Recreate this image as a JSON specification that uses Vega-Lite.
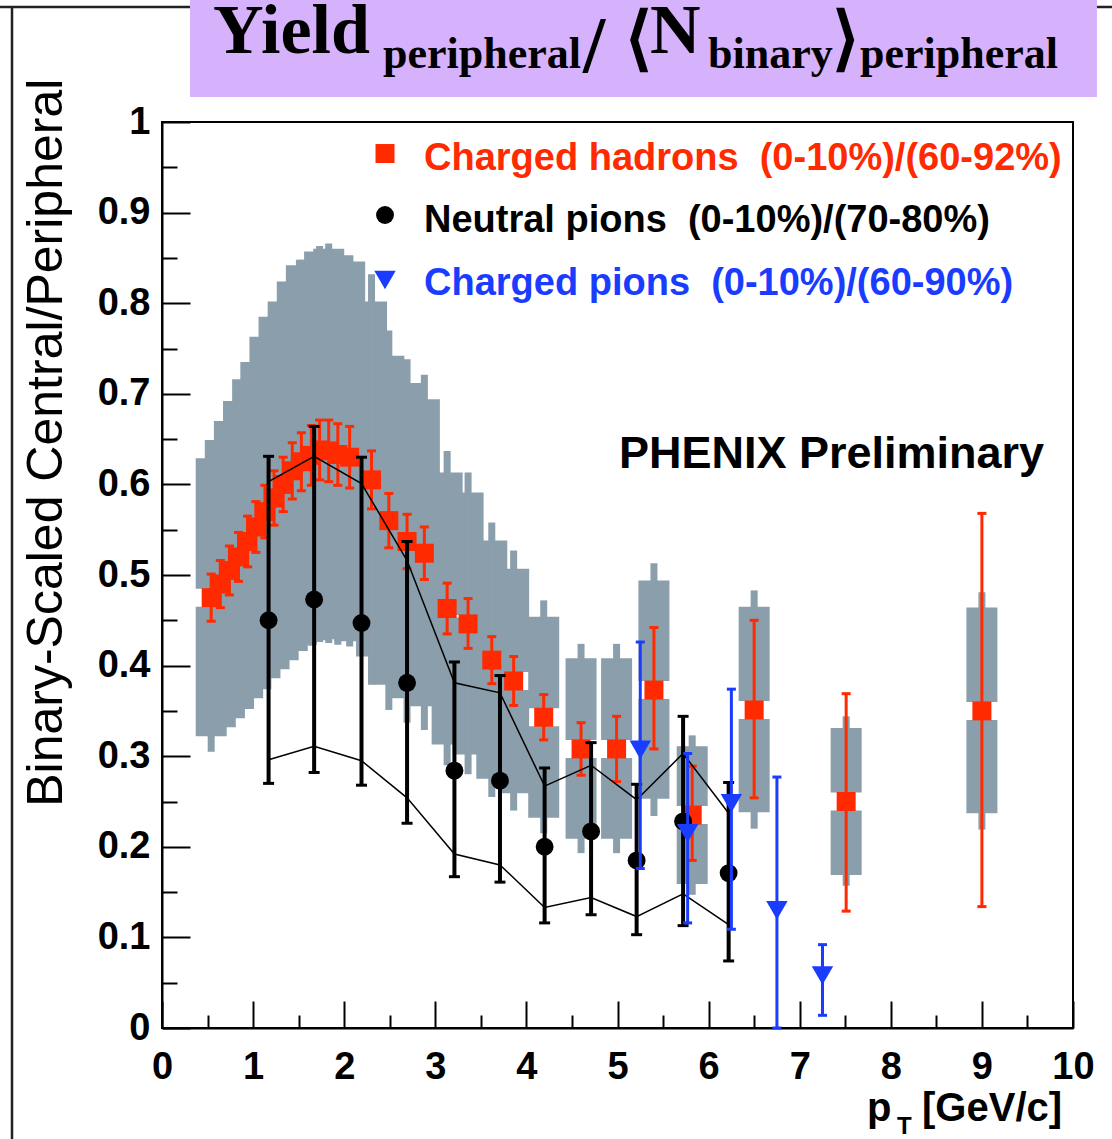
{
  "$schema": "https://vega.github.io/schema/vega-lite/v6.json",
  "width": 911,
  "height": 906,
  "autosize": {"type": "none"},
  "padding": {"left": 162, "top": 122, "right": 39, "bottom": 111},
  "background": "white",
  "view": {"stroke": "#000", "strokeWidth": 2},
  "datasets": {
    "had": [
      {"pT":0.54,"v":0.475,"elo":0.449,"ehi":0.501,"wlo":0.322,"whi":0.629,"nlo":0.305,"nhi":0.635},
      {"pT":0.64,"v":0.490,"elo":0.464,"ehi":0.516,"wlo":0.332,"whi":0.649,"nlo":0.326,"nhi":0.655},
      {"pT":0.74,"v":0.505,"elo":0.478,"ehi":0.532,"wlo":0.342,"whi":0.670,"nlo":0.336,"nhi":0.676},
      {"pT":0.84,"v":0.520,"elo":0.493,"ehi":0.547,"wlo":0.352,"whi":0.692,"nlo":0.346,"nhi":0.698},
      {"pT":0.94,"v":0.537,"elo":0.509,"ehi":0.565,"wlo":0.364,"whi":0.716,"nlo":0.358,"nhi":0.722},
      {"pT":1.03,"v":0.553,"elo":0.525,"ehi":0.581,"wlo":0.374,"whi":0.735,"nlo":0.368,"nhi":0.741},
      {"pT":1.13,"v":0.570,"elo":0.541,"ehi":0.599,"wlo":0.386,"whi":0.763,"nlo":0.380,"nhi":0.769},
      {"pT":1.23,"v":0.585,"elo":0.555,"ehi":0.615,"wlo":0.396,"whi":0.785,"nlo":0.390,"nhi":0.791},
      {"pT":1.33,"v":0.600,"elo":0.570,"ehi":0.630,"wlo":0.406,"whi":0.802,"nlo":0.400,"nhi":0.808},
      {"pT":1.43,"v":0.615,"elo":0.584,"ehi":0.646,"wlo":0.416,"whi":0.824,"nlo":0.410,"nhi":0.830},
      {"pT":1.53,"v":0.625,"elo":0.593,"ehi":0.657,"wlo":0.423,"whi":0.842,"nlo":0.417,"nhi":0.848},
      {"pT":1.64,"v":0.632,"elo":0.599,"ehi":0.665,"wlo":0.428,"whi":0.848,"nlo":0.422,"nhi":0.854},
      {"pT":1.73,"v":0.638,"elo":0.605,"ehi":0.671,"wlo":0.432,"whi":0.857,"nlo":0.426,"nhi":0.863},
      {"pT":1.83,"v":0.637,"elo":0.603,"ehi":0.671,"wlo":0.431,"whi":0.860,"nlo":0.425,"nhi":0.866},
      {"pT":1.93,"v":0.633,"elo":0.599,"ehi":0.667,"wlo":0.429,"whi":0.853,"nlo":0.423,"nhi":0.859},
      {"pT":2.06,"v":0.630,"elo":0.596,"ehi":0.664,"wlo":0.427,"whi":0.846,"nlo":0.421,"nhi":0.852},
      {"pT":2.30,"v":0.605,"elo":0.573,"ehi":0.637,"wlo":0.410,"whi":0.802,"nlo":0.379,"nhi":0.832},
      {"pT":2.49,"v":0.560,"elo":0.530,"ehi":0.590,"wlo":0.379,"whi":0.742,"nlo":0.351,"nhi":0.770},
      {"pT":2.69,"v":0.537,"elo":0.507,"ehi":0.567,"wlo":0.364,"whi":0.712,"nlo":0.337,"nhi":0.738},
      {"pT":2.88,"v":0.524,"elo":0.495,"ehi":0.553,"wlo":0.355,"whi":0.694,"nlo":0.329,"nhi":0.721},
      {"pT":3.13,"v":0.463,"elo":0.435,"ehi":0.491,"wlo":0.313,"whi":0.613,"nlo":0.290,"nhi":0.637},
      {"pT":3.36,"v":0.446,"elo":0.419,"ehi":0.474,"wlo":0.302,"whi":0.591,"nlo":0.280,"nhi":0.613},
      {"pT":3.62,"v":0.406,"elo":0.380,"ehi":0.432,"wlo":0.275,"whi":0.538,"nlo":0.255,"nhi":0.558},
      {"pT":3.86,"v":0.383,"elo":0.356,"ehi":0.410,"wlo":0.259,"whi":0.507,"nlo":0.240,"nhi":0.527},
      {"pT":4.19,"v":0.343,"elo":0.318,"ehi":0.368,"wlo":0.232,"whi":0.454,"nlo":0.215,"nhi":0.472},
      {"pT":4.60,"v":0.308,"elo":0.279,"ehi":0.337,"wlo":0.209,"whi":0.408,"nlo":0.193,"nhi":0.424},
      {"pT":4.99,"v":0.308,"elo":0.272,"ehi":0.344,"wlo":0.209,"whi":0.408,"nlo":0.193,"nhi":0.424},
      {"pT":5.40,"v":0.373,"elo":0.308,"ehi":0.442,"wlo":0.253,"whi":0.494,"nlo":0.234,"nhi":0.513},
      {"pT":5.82,"v":0.235,"elo":0.185,"ehi":0.289,"wlo":0.159,"whi":0.311,"nlo":0.147,"nhi":0.323},
      {"pT":6.50,"v":0.351,"elo":0.254,"ehi":0.450,"wlo":0.238,"whi":0.465,"nlo":0.220,"nhi":0.483},
      {"pT":7.51,"v":0.250,"elo":0.129,"ehi":0.369,"wlo":0.169,"whi":0.331,"nlo":0.157,"nhi":0.344},
      {"pT":9.00,"v":0.350,"elo":0.134,"ehi":0.568,"wlo":0.237,"whi":0.464,"nlo":0.219,"nhi":0.481}
    ],
    "pi0": [
      {"pT":1.17,"v":0.450,"elo":0.270,"ehi":0.631,"su":0.603,"sl":0.296},
      {"pT":1.67,"v":0.473,"elo":0.282,"ehi":0.664,"su":0.631,"sl":0.311},
      {"pT":2.19,"v":0.447,"elo":0.268,"ehi":0.630,"su":0.601,"sl":0.295},
      {"pT":2.69,"v":0.381,"elo":0.226,"ehi":0.537,"su":0.516,"sl":0.254},
      {"pT":3.21,"v":0.284,"elo":0.167,"ehi":0.404,"su":0.381,"sl":0.192},
      {"pT":3.71,"v":0.273,"elo":0.161,"ehi":0.389,"su":0.370,"sl":0.180},
      {"pT":4.20,"v":0.200,"elo":0.116,"ehi":0.287,"su":0.267,"sl":0.133},
      {"pT":4.71,"v":0.217,"elo":0.125,"ehi":0.315,"su":0.290,"sl":0.144},
      {"pT":5.21,"v":0.185,"elo":0.103,"ehi":0.269,"su":0.252,"sl":0.123},
      {"pT":5.72,"v":0.228,"elo":0.113,"ehi":0.344,"su":0.303,"sl":0.148},
      {"pT":6.22,"v":0.171,"elo":0.074,"ehi":0.271,"su":0.237,"sl":0.114}
    ],
    "pich": [
      {"pT":5.25,"v":0.307,"elo":0.176,"ehi":0.426},
      {"pT":5.77,"v":0.215,"elo":0.116,"ehi":0.303},
      {"pT":6.25,"v":0.248,"elo":0.109,"ehi":0.374},
      {"pT":6.75,"v":0.130,"elo":0.000,"ehi":0.277},
      {"pT":7.25,"v":0.058,"elo":0.014,"ehi":0.092}
    ]
  },
  "layer": [
    {
      "layer": [
        {"data":{"values":[{}]},"mark":{"type":"rule","color":"#222","strokeWidth":2.5},"encoding":{"x":{"datum":-1.778},"x2":{"datum":10.43},"y":{"datum":1.1269}}},
        {"data":{"values":[{}]},"mark":{"type":"rect","color":"#d6b1fc"},"encoding":{"x":{"datum":0.307},"x2":{"datum":10.263},"y":{"datum":1.1347},"y2":{"datum":1.0276}}},
        {"data":{"values":[{}]},"mark":{"type":"text","text":"Yield","font":"Liberation Serif","fontWeight":"bold","fontSize":70,"align":"left","baseline":"alphabetic","color":"#000"},"encoding":{"x":{"datum":0.56},"y":{"datum":1.0762}}},
        {"data":{"values":[{}]},"mark":{"type":"text","text":"peripheral","font":"Liberation Serif","fontWeight":"bold","fontSize":44,"align":"left","baseline":"alphabetic","color":"#000"},"encoding":{"x":{"datum":2.426},"y":{"datum":1.0596}}},
        {"data":{"values":[{}]},"mark":{"type":"text","text":"/","font":"Liberation Serif","fontWeight":"bold","fontSize":80,"align":"left","baseline":"alphabetic","color":"#000"},"encoding":{"x":{"datum":4.621},"y":{"datum":1.0552}}},
        {"data":{"values":[{}]},"mark":{"type":"text","text":"⟨","font":"Liberation Serif","fontWeight":"bold","fontSize":70,"align":"left","baseline":"alphabetic","color":"#000"},"encoding":{"x":{"datum":5.082},"y":{"datum":1.0662}}},
        {"data":{"values":[{}]},"mark":{"type":"text","text":"N","font":"Liberation Serif","fontWeight":"bold","fontSize":70,"align":"left","baseline":"alphabetic","color":"#000"},"encoding":{"x":{"datum":5.357},"y":{"datum":1.0762}}},
        {"data":{"values":[{}]},"mark":{"type":"text","text":"binary","font":"Liberation Serif","fontWeight":"bold","fontSize":44,"align":"left","baseline":"alphabetic","color":"#000"},"encoding":{"x":{"datum":5.993},"y":{"datum":1.0596}}},
        {"data":{"values":[{}]},"mark":{"type":"text","text":"⟩","font":"Liberation Serif","fontWeight":"bold","fontSize":70,"align":"left","baseline":"alphabetic","color":"#000"},"encoding":{"x":{"datum":7.355},"y":{"datum":1.0662}}},
        {"data":{"values":[{}]},"mark":{"type":"text","text":"peripheral","font":"Liberation Serif","fontWeight":"bold","fontSize":44,"align":"left","baseline":"alphabetic","color":"#000"},"encoding":{"x":{"datum":7.662},"y":{"datum":1.0596}}},

        {"data":{"name":"had"},"mark":{"type":"bar","width":31,"color":"#8b9eab","yOffset":-9},
         "encoding":{
           "x":{"field":"pT","type":"quantitative","scale":{"domain":[0,10],"nice":false,"zero":false,"padding":0},
                "axis":{"values":[0,1,2,3,4,5,6,7,8,9,10],"format":"d","title":null,"grid":false,"tickSize":-27,"tickWidth":2,"tickColor":"#000","domainColor":"#000","domainWidth":2,"labelFont":"Liberation Sans","labelFontWeight":"bold","labelFontSize":38,"labelColor":"#000","labelPadding":47,"labelOverlap":false,"labelFlush":false,"labelBound":false}},
           "y":{"field":"v","type":"quantitative","scale":{"domain":[0,1],"nice":false,"zero":false,"padding":0},
                "axis":{"values":[0,0.1,0.2,0.3,0.4,0.5,0.6,0.7,0.8,0.9,1],"format":".1~f","title":null,"grid":false,"tickSize":-28,"tickWidth":2,"tickColor":"#000","domainColor":"#000","domainWidth":2,"labelFont":"Liberation Sans","labelFontWeight":"bold","labelFontSize":38,"labelColor":"#000","labelPadding":40,"labelOverlap":false,"labelFlush":false,"labelBound":false}},
           "y2":{"field":"whi"}}},
        {"data":{"name":"had"},"mark":{"type":"bar","width":31,"color":"#8b9eab","y2Offset":9},
         "encoding":{"x":{"field":"pT","type":"quantitative"},"y":{"field":"wlo","type":"quantitative"},"y2":{"field":"v"}}},
        {"data":{"name":"had"},"mark":{"type":"bar","width":7,"color":"#8b9eab","yOffset":-9},
         "encoding":{"x":{"field":"pT","type":"quantitative"},"y":{"field":"v","type":"quantitative"},"y2":{"field":"nhi"}}},
        {"data":{"name":"had"},"mark":{"type":"bar","width":7,"color":"#8b9eab","y2Offset":9},
         "encoding":{"x":{"field":"pT","type":"quantitative"},"y":{"field":"nlo","type":"quantitative"},"y2":{"field":"v"}}},

        {"data":{"name":"had"},"mark":{"type":"rule","color":"#ff2a00","strokeWidth":3},
         "encoding":{"x":{"field":"pT","type":"quantitative"},"y":{"field":"elo","type":"quantitative"},"y2":{"field":"ehi"}}},
        {"data":{"name":"had"},"mark":{"type":"tick","orient":"horizontal","color":"#ff2a00","size":9,"thickness":3,"opacity":1},
         "encoding":{"x":{"field":"pT","type":"quantitative"},"y":{"field":"ehi","type":"quantitative"}}},
        {"data":{"name":"had"},"mark":{"type":"tick","orient":"horizontal","color":"#ff2a00","size":9,"thickness":3,"opacity":1},
         "encoding":{"x":{"field":"pT","type":"quantitative"},"y":{"field":"elo","type":"quantitative"}}},
        {"data":{"name":"had"},"mark":{"type":"point","shape":"square","filled":true,"size":361,"color":"#ff2a00","opacity":1},
         "encoding":{"x":{"field":"pT","type":"quantitative"},"y":{"field":"v","type":"quantitative"}}},

        {"data":{"name":"pi0"},"mark":{"type":"line","color":"#000","strokeWidth":1.5},
         "encoding":{"x":{"field":"pT","type":"quantitative"},"y":{"field":"su","type":"quantitative"}}},
        {"data":{"name":"pi0"},"mark":{"type":"line","color":"#000","strokeWidth":1.5},
         "encoding":{"x":{"field":"pT","type":"quantitative"},"y":{"field":"sl","type":"quantitative"}}},
        {"data":{"name":"pi0"},"mark":{"type":"rule","color":"#000","strokeWidth":4},
         "encoding":{"x":{"field":"pT","type":"quantitative"},"y":{"field":"elo","type":"quantitative"},"y2":{"field":"ehi"}}},
        {"data":{"name":"pi0"},"mark":{"type":"tick","orient":"horizontal","color":"#000","size":11,"thickness":3,"opacity":1},
         "encoding":{"x":{"field":"pT","type":"quantitative"},"y":{"field":"ehi","type":"quantitative"}}},
        {"data":{"name":"pi0"},"mark":{"type":"tick","orient":"horizontal","color":"#000","size":11,"thickness":3,"opacity":1},
         "encoding":{"x":{"field":"pT","type":"quantitative"},"y":{"field":"elo","type":"quantitative"}}},
        {"data":{"name":"pi0"},"mark":{"type":"point","shape":"circle","filled":true,"size":320,"color":"#000","opacity":1},
         "encoding":{"x":{"field":"pT","type":"quantitative"},"y":{"field":"v","type":"quantitative"}}},

        {"data":{"name":"pich"},"mark":{"type":"rule","color":"#1a3cff","strokeWidth":3},
         "encoding":{"x":{"field":"pT","type":"quantitative"},"y":{"field":"elo","type":"quantitative"},"y2":{"field":"ehi"}}},
        {"data":{"name":"pich"},"mark":{"type":"tick","orient":"horizontal","color":"#1a3cff","size":9,"thickness":3,"opacity":1},
         "encoding":{"x":{"field":"pT","type":"quantitative"},"y":{"field":"ehi","type":"quantitative"}}},
        {"data":{"name":"pich"},"mark":{"type":"tick","orient":"horizontal","color":"#1a3cff","size":9,"thickness":3,"opacity":1},
         "encoding":{"x":{"field":"pT","type":"quantitative"},"y":{"field":"elo","type":"quantitative"}}},
        {"data":{"name":"pich"},"mark":{"type":"point","shape":"triangle-down","filled":true,"size":460,"color":"#1a3cff","opacity":1},
         "encoding":{"x":{"field":"pT","type":"quantitative"},"y":{"field":"v","type":"quantitative"}}},

        {"data":{"values":[{}]},"mark":{"type":"point","shape":"square","filled":true,"size":361,"color":"#ff2a00","opacity":1},"encoding":{"x":{"datum":2.448},"y":{"datum":0.9652}}},
        {"data":{"values":[{}]},"mark":{"type":"point","shape":"circle","filled":true,"size":320,"color":"#000","opacity":1},"encoding":{"x":{"datum":2.448},"y":{"datum":0.8974}}},
        {"data":{"values":[{}]},"mark":{"type":"point","shape":"triangle-down","filled":true,"size":460,"color":"#1a3cff","opacity":1},"encoding":{"x":{"datum":2.448},"y":{"datum":0.8256}}},
        {"data":{"values":[{}]},"mark":{"type":"text","text":"Charged hadrons\u00a0 (0-10%)/(60-92%)","font":"Liberation Sans","fontWeight":"bold","fontSize":38,"align":"left","baseline":"alphabetic","color":"#ff2a00"},"encoding":{"x":{"datum":2.876},"y":{"datum":0.9475}}},
        {"data":{"values":[{}]},"mark":{"type":"text","text":"Neutral pions\u00a0 (0-10%)/(70-80%)","font":"Liberation Sans","fontWeight":"bold","fontSize":38,"align":"left","baseline":"alphabetic","color":"#000"},"encoding":{"x":{"datum":2.876},"y":{"datum":0.8789}}},
        {"data":{"values":[{}]},"mark":{"type":"text","text":"Charged pions\u00a0 (0-10%)/(60-90%)","font":"Liberation Sans","fontWeight":"bold","fontSize":38,"align":"left","baseline":"alphabetic","color":"#1a3cff"},"encoding":{"x":{"datum":2.876},"y":{"datum":0.8091}}},
        {"data":{"values":[{}]},"mark":{"type":"text","text":"PHENIX Preliminary","font":"Liberation Sans","fontWeight":"bold","fontSize":45,"align":"left","baseline":"alphabetic","color":"#000"},"encoding":{"x":{"datum":5.016},"y":{"datum":0.6181}}},

        {"data":{"values":[{}]},"mark":{"type":"text","text":"p","font":"Liberation Sans","fontWeight":"bold","fontSize":40,"align":"left","baseline":"alphabetic","color":"#000"},"encoding":{"x":{"datum":7.739},"y":{"datum":-0.1026}}},
        {"data":{"values":[{}]},"mark":{"type":"text","text":"T","font":"Liberation Sans","fontWeight":"bold","fontSize":24,"align":"left","baseline":"alphabetic","color":"#000"},"encoding":{"x":{"datum":8.068},"y":{"datum":-0.1170}}},
        {"data":{"values":[{}]},"mark":{"type":"text","text":"[GeV/c]","font":"Liberation Sans","fontWeight":"bold","fontSize":40,"align":"left","baseline":"alphabetic","color":"#000"},"encoding":{"x":{"datum":8.343},"y":{"datum":-0.1026}}},
        {"data":{"values":[{}]},"mark":{"type":"text","text":"Binary-Scaled Central/Peripheral","font":"Liberation Sans","fontSize":50,"angle":270,"align":"center","baseline":"alphabetic","color":"#000"},"encoding":{"x":{"datum":-1.098},"y":{"datum":0.646}}}
      ]
    },
    {
      "data":{"values":[{}]},
      "mark":{"type":"rule","color":"#222","strokeWidth":2.5},
      "encoding":{
        "x":{"datum":-1.6465,"axis":{"orient":"bottom","values":[0.5,1.5,2.5,3.5,4.5,5.5,6.5,7.5,8.5,9.5],"labels":false,"domain":false,"title":null,"grid":false,"tickSize":-13,"tickWidth":2,"tickColor":"#000"}},
        "y":{"datum":1.1269,"axis":{"orient":"left","values":[0.05,0.15,0.25,0.35,0.45,0.55,0.65,0.75,0.85,0.95],"labels":false,"domain":false,"title":null,"grid":false,"tickSize":-15,"tickWidth":2,"tickColor":"#000"}},
        "y2":{"datum":-0.1225}
      }
    }
  ],
  "resolve": {"axis": {"x": "independent", "y": "independent"}}
}
